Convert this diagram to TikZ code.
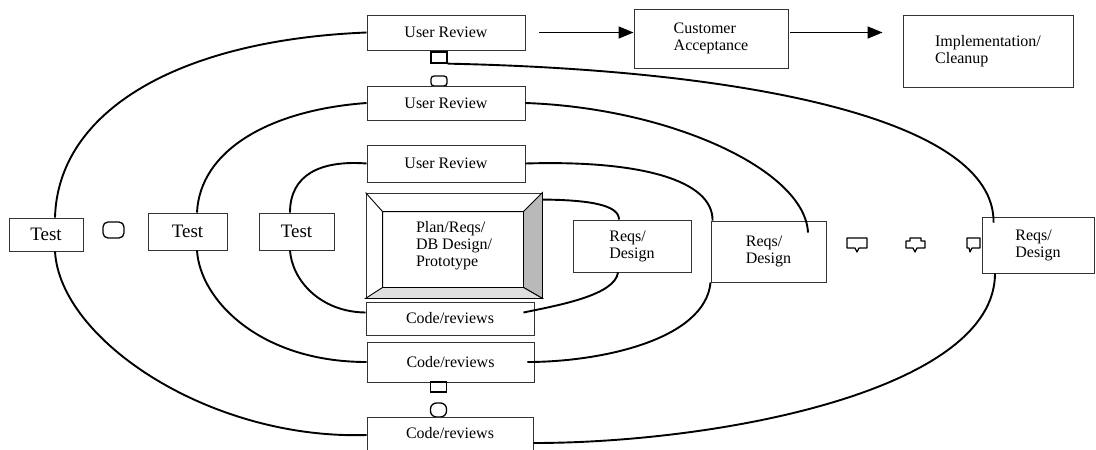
\documentclass[tikz,border=0pt]{standalone}
\usepackage{fontspec}
\setmainfont{Liberation Serif}
\usetikzlibrary{arrows.meta, calc}

\begin{document}
\begin{tikzpicture}[x=1pt, y=-1pt,
    box/.style={draw=black!80, line width=0.9pt, fill=white, inner sep=0pt, align=left,
        font=\fontsize{16}{17}\selectfont},
    testbox/.style={box, font=\fontsize{19}{20}\selectfont},
    loop/.style={line width=1.9pt, black},
    tab/.style={draw=black, line width=1.3pt, inner sep=0pt, minimum width=16pt, minimum height=11pt},
    glyph/.style={draw=black, line width=1.3pt, line join=round},
    flow/.style={line width=1.5pt, -{Triangle[length=15pt,width=12pt]}}]
    \useasboundingbox (0,0) rectangle (1096,450);

    % top row
    \node[box, minimum width=158pt, minimum height=35pt] (ur1) at (446,32.5) {User Review};
    \node[box, minimum width=154pt, minimum height=59pt] (ca) at (711,38.5) {Customer\\Acceptance};
    \node[box, minimum width=170pt, minimum height=72pt] (impl) at (988,51) {Implementation/\\Cleanup};
    \node[tab] (k1) at (439,57.5) {};
    \node[tab, rounded corners=3pt, minimum height=10pt] (k2) at (439,81) {};

    % review boxes
    \node[box, minimum width=158pt, minimum height=34pt] (ur2) at (446,103) {User Review};
    \node[box, minimum width=158pt, minimum height=37pt] (ur3) at (446,163.5) {User Review};

    % centre block with bevel
    \node[box, minimum width=176pt, minimum height=105pt, align=left] (plan) at (454,245.5) {Plan/Reqs/\\DB Design/\\Prototype};
    \coordinate (pi1) at ($(plan.north west)+(17,19)$);
    \coordinate (pi2) at ($(plan.north east)+(-19,19)$);
    \coordinate (pi3) at ($(plan.south east)+(-19,-11)$);
    \coordinate (pi4) at ($(plan.south west)+(17,-11)$);
    \filldraw[fill=gray!55, draw=black, line width=0.9pt] (plan.north east) -- (plan.south east) -- (pi3) -- (pi2) -- cycle;
    \filldraw[fill=gray!25, draw=black, line width=0.9pt] (plan.south west) -- (plan.south east) -- (pi3) -- (pi4) -- cycle;
    \draw[line width=0.9pt] (plan.north west) -- (pi1) -- (pi2) (pi1) -- (pi4);

    % code boxes
    \node[box, minimum width=168pt, minimum height=33pt] (cr1) at (450,318.5) {Code/reviews};
    \node[box, minimum width=167pt, minimum height=40pt] (cr2) at (450.5,362) {Code/reviews};
    \node[tab, minimum height=10pt] (k3) at (438.5,387) {};
    \node[tab, rounded corners=6pt, minimum height=14pt] (k4) at (438.5,410) {};
    \node[box, minimum width=166pt, minimum height=33pt] (cr3) at (450,433.5) {Code/reviews};

    % test boxes
    \node[testbox, minimum width=74pt, minimum height=33pt] (t1) at (46,234.5) {Test};
    \node[glyph, rounded corners=5pt, minimum width=21pt, minimum height=16pt] (k5) at (113.5,230) {};
    \node[testbox, minimum width=79pt, minimum height=37pt] (t2) at (187.5,231.5) {Test};
    \node[testbox, minimum width=75pt, minimum height=37pt] (t3) at (296.5,231.5) {Test};

    % reqs boxes
    \node[box, minimum width=118pt, minimum height=52pt] (rd1) at (632,246) {Reqs/\\Design};
    \node[box, minimum width=115pt, minimum height=61pt] (rd2) at (768.5,251.5) {Reqs/\\Design};
    \draw[glyph] (847,238) -- (867,238) -- (867,248) -- (859,248) -- (857,252) -- (855,248) -- (847,248) -- cycle;
    \draw[glyph] (906,241) -- (910,241) -- (910,238) -- (921,238) -- (921,241) -- (925,241) -- (925,248) -- (917,248) -- (915,252) -- (913,248) -- (906,248) -- cycle;
    \draw[glyph] (967,238) -- (980,238) -- (980,248) -- (972,248) -- (970,252) -- (969,248) -- (967,248) -- cycle;
    \node[box, minimum width=112pt, minimum height=56pt] (rd3) at (1038,245) {Reqs/\\Design};

    % flow arrows
    \coordinate (a1) at (ur1.east);
    \coordinate (a2) at ([yshift=6pt]ca.east);
    \draw[flow, shorten <=14pt] (a1) -- (a1 -| ca.west);
    \draw[flow, shorten <=2pt, shorten >=20pt] (a2) -- (a2 -| impl.west);

    % left loops
    \draw[loop] (ur1.west) .. controls (180,40) and (58,110) .. ([xshift=9pt]t1.north);
    \draw[loop] (ur2.west) .. controls (270,110) and (200,150) .. ([xshift=9.5pt]t2.north);
    \draw[loop] (ur3.west) .. controls (320,160) and (290,175) .. ([xshift=-6.5pt]t3.north);
    \draw[loop] ([xshift=9pt]t1.south) .. controls (60,340) and (210,440) .. ([yshift=-1.5pt]cr3.west);
    \draw[loop] ([xshift=9.5pt]t2.south) .. controls (200,300) and (260,362) .. (cr2.west);
    \draw[loop] ([xshift=-6.5pt]t3.south) .. controls (292,280) and (320,312) .. ([yshift=6pt]cr1.west);

    % right loops
    \draw[loop] ([yshift=-7pt]plan.north east) .. controls (590,200) and (619,205) .. ([xshift=-13pt]rd1.north);
    \draw[loop] ([xshift=-14pt]rd1.south) .. controls (615,295) and (560,305) .. ([xshift=-11pt,yshift=6pt]cr1.east);
    \draw[loop] (ur3.east) .. controls (640,160) and (713,180) .. ([xshift=2pt]rd2.north west);
    \draw[loop] (rd2.south west) .. controls (705,340) and (600,362) .. ([xshift=-7pt]cr2.east);
    \draw[loop] (ur2.east) .. controls (670,108) and (805,170) .. ([xshift=39.5pt,yshift=-12pt]rd2.north);
    \draw[loop] (k1.south east) .. controls (750,70) and (995,120) .. ([xshift=12pt,yshift=-6pt]rd3.north west);
    \draw[loop] ([xshift=-43pt]rd3.south) .. controls (995,390) and (720,443) .. ([yshift=-9.5pt]cr3.east);
\end{tikzpicture}
\end{document}
